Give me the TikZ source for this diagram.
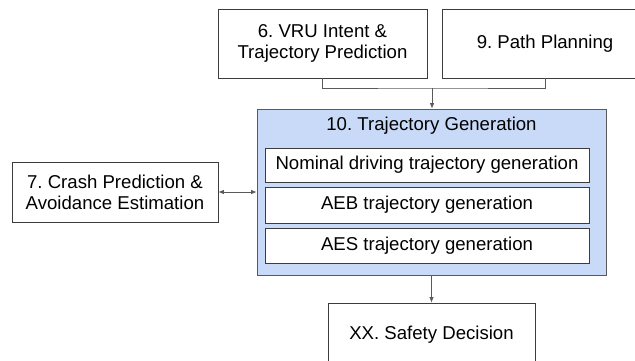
\documentclass[tikz,border=0pt]{standalone}
\usepackage{fontspec}
\setmainfont{Liberation Sans}
\usetikzlibrary{arrows.meta}
\definecolor{edgec}{RGB}{60,60,60}
\definecolor{linec}{RGB}{90,90,90}
\definecolor{bluef}{RGB}{201,218,248}
\tikzset{
  txt/.style={font=\fontsize{18.6}{21}\selectfont\frenchspacing},
  box/.style={txt, draw=edgec, line width=0.8pt, fill=white, rectangle, inner sep=0pt, align=center},
  conn/.style={draw=linec, line width=0.7pt},
  tip/.style={-{Latex[length=5.5pt,width=4.5pt]}},
  tips/.style={{Latex[length=5.5pt,width=4.5pt]}-{Latex[length=5.5pt,width=4.5pt]}}
}
\begin{document}
\begin{tikzpicture}[x=1pt,y=-1pt]
\useasboundingbox (0,0) rectangle (635,361);
\clip (0,0) rectangle (635,361);
\node[box, minimum width=209pt, minimum height=69pt] (b6) at (322.5,43.5) {6. VRU Intent \&\\Trajectory Prediction};
\node[box, minimum width=206pt, minimum height=69pt] (b9) at (545,43.5) {9. Path Planning};
\node[box, fill=bluef, draw=linec, minimum width=349pt, minimum height=166pt] (b10) at (431.5,192) {};
\node[txt, inner sep=0pt] (t10) at (431.5,125.5) {10. Trajectory Generation};
\node[box, minimum width=324pt, minimum height=34pt] (n1) at (427,165) {Nominal driving trajectory generation};
\node[box, minimum width=324pt, minimum height=36pt] (n2) at (427,205) {AEB trajectory generation};
\node[box, minimum width=324pt, minimum height=35pt] (n3) at (427,245.5) {AES trajectory generation};
\node[box, minimum width=206pt, minimum height=60pt] (b7) at (115,192) {7. Crash Prediction \&\\Avoidance Estimation};
\node[box, minimum width=207pt, minimum height=64pt] (bx) at (431.5,335) {XX. Safety Decision};
\coordinate (j) at (432,88);
\draw[conn] (b6.south) |- (j) -| (b9.south);
\draw[conn, tip] (j) -- (j |- b10.north);
\draw[conn, tips] (b7.east) -- (b10.west);
\draw[conn, tip] (b10.south) -- (bx.north);
\end{tikzpicture}
\end{document}
